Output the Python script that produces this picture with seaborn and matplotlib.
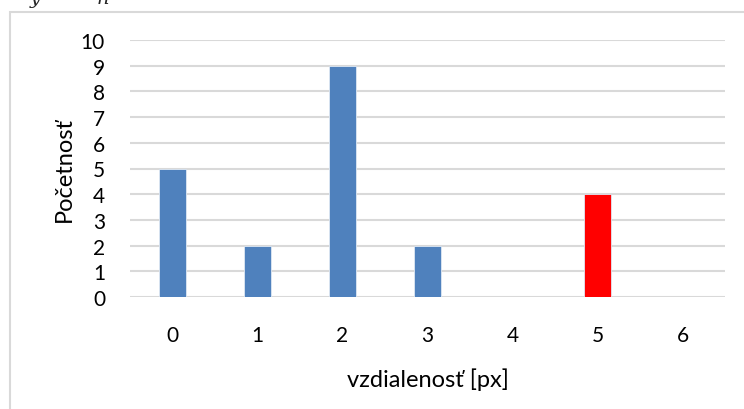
import matplotlib
matplotlib.use("Agg")
import matplotlib.pyplot as plt
from matplotlib.patches import Rectangle
import seaborn as sns
import pandas as pd

# Histogram of distances
categories = ["0", "1", "2", "3", "4", "5", "6"]
counts = [5, 2, 9, 2, 0, 4, 0]
bar_colors = ["#4f81bd", "#4f81bd", "#4f81bd", "#4f81bd", "#4f81bd", "#ff0000", "#4f81bd"]
y_ticks = list(range(0, 11))

sns.set_theme(style="white")
plt.rcParams["font.family"] = ["Lato", "DejaVu Sans"]

df = pd.DataFrame({"vzdialenost": categories, "pocet": counts})

fig = plt.figure(figsize=(7.44, 4.10), dpi=100)
ax = fig.add_axes([130 / 744, 1 - 298 / 410, 595 / 744, 257 / 410])

sns.barplot(data=df, x="vzdialenost", y="pocet", hue="vzdialenost",
            palette=dict(zip(categories, bar_colors)), legend=False,
            saturation=1, width=0.32, ax=ax, edgecolor="#dfe8f3",
            linewidth=0.6, zorder=3)

ax.set_xlim(-0.5, len(categories) - 0.5)
ax.set_ylim(0, 10)
ax.set_yticks(y_ticks)
ax.set_yticklabels([str(t) for t in y_ticks])
ax.yaxis.grid(True, color="#d9d9d9", linewidth=1.5, zorder=0)
ax.set_axisbelow(True)
for side in ["top", "right", "left", "bottom"]:
    ax.spines[side].set_visible(False)
ax.tick_params(axis="y", length=0, pad=18, labelsize=15, labelcolor="black")
ax.tick_params(axis="x", length=0, pad=20, labelsize=15, labelcolor="black")
ax.set_xlabel("vzdialenosť [px]", fontsize=17, labelpad=16, color="black")
ax.set_ylabel("Početnosť", fontsize=17, labelpad=4, color="black")

# chart frame
fig.patches.append(Rectangle((9.5 / 744, -0.1), 1.2, 1 - 12.5 / 410 + 0.1,
                             transform=fig.transFigure, fill=False,
                             edgecolor="#d9d9d9", linewidth=1.5))

# text from the line above the chart
fig.text(30 / 744, 1 - 4 / 410, "y", style="italic", fontsize=14, va="baseline",
         family="DejaVu Serif")
fig.text(97 / 744, 1 - 4 / 410, "n", style="italic", fontsize=14, va="baseline",
         family="DejaVu Serif")

fig.savefig("out.png", dpi=100, facecolor="white")
